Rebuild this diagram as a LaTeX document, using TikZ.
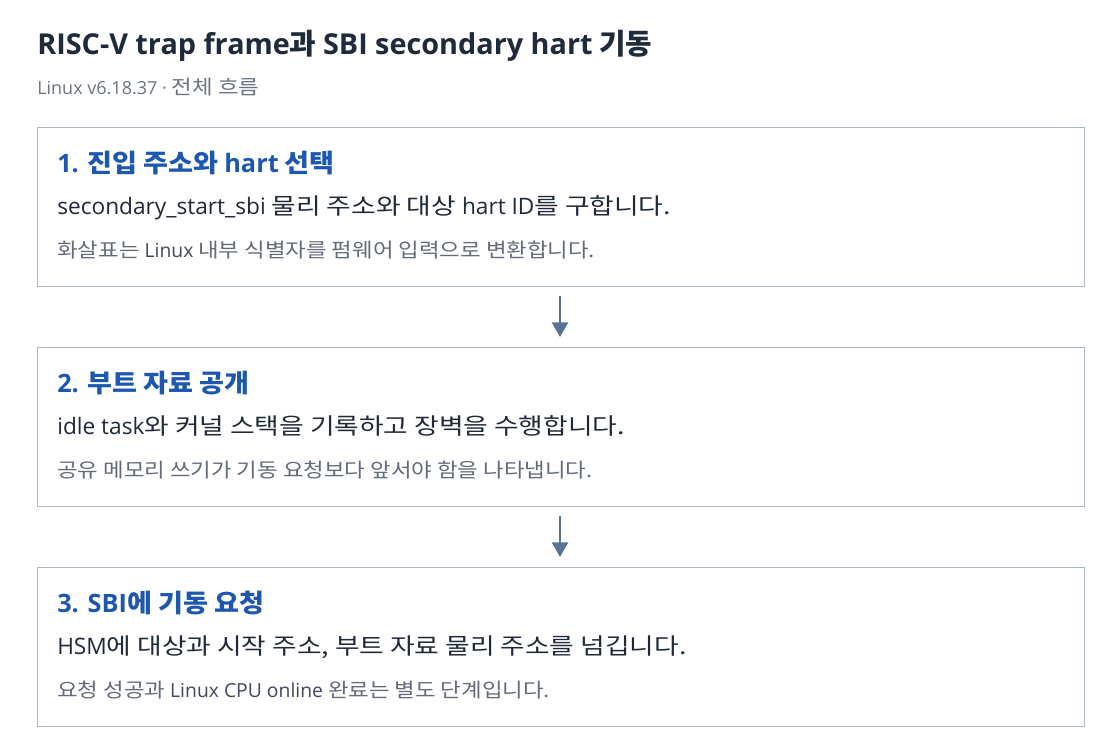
\documentclass[tikz,border=0pt]{standalone}
\usepackage{fontspec}
\setmainfont{Noto Sans CJK KR}
\newfontfamily\lat{Open Sans}
\newfontfamily\krT{Noto Sans CJK KR}
\newfontfamily\krH[FakeStretch=1.07]{Noto Sans CJK KR}
\newfontfamily\krB[FakeStretch=1.18]{Noto Sans CJK KR}
\newfontfamily\krN[Scale=1.1,FakeStretch=1.13]{Noto Sans CJK KR}
\usetikzlibrary{arrows.meta}
\definecolor{titlec}{HTML}{1F2A3A}
\definecolor{subc}{HTML}{6B7480}
\definecolor{headc}{HTML}{1D57B0}
\definecolor{bodyc}{HTML}{1F2937}
\definecolor{notec}{HTML}{626B78}
\definecolor{notelat}{HTML}{3F4958}
\definecolor{borderc}{HTML}{AEB9C7}
\definecolor{arrowc}{HTML}{5A7393}
\newcommand\lt[1]{{\lat #1}}
\newcommand\ltn[1]{{\fontsize{14.5pt}{16pt}\selectfont\lat\color{notelat}#1}}
\tikzset{
  stepbox/.style={draw=borderc, line width=0.9pt, fill=white},
  titletext/.style={anchor=base west, inner sep=0pt, text=titlec, font=\fontsize{21.6pt}{26pt}\selectfont\bfseries\krT},
  subtext/.style={anchor=base west, inner sep=0pt, text=subc, font=\fontsize{13.5pt}{16pt}\selectfont\krN},
  headtext/.style={anchor=base west, inner sep=0pt, text=headc, font=\fontsize{19pt}{22pt}\selectfont\bfseries\krH},
  bodytext/.style={anchor=base west, inner sep=0pt, text=bodyc, font=\fontsize{17pt}{20pt}\selectfont\krB},
  notetext/.style={anchor=base west, inner sep=0pt, text=notec, font=\fontsize{13.5pt}{16pt}\selectfont\krN},
  flow/.style={draw=arrowc, line width=2.2pt, -{Triangle[width=12pt,length=11pt]}}
}
\begin{document}
\begin{tikzpicture}[x=0.75pt,y=-0.75pt]
\useasboundingbox (0,0) rectangle (1120,754);
\fill[white] (0,0) rectangle (1120,754);

\node[titletext] (title) at (37,54) {\lt{RISC-V trap frame}과 \lt{SBI secondary hart} 기동};
\node[subtext] (sub) at (37,94) {\lt{Linux v6.18.37 ·} 전체 흐름};

% box 1
\node[stepbox, minimum width=1047*0.75pt, minimum height=159*0.75pt, anchor=north west] (b1) at (37,127) {};
\node[headtext] (h1) at (57,172) {\lt{1.} 진입 주소와 \lt{hart} 선택};
\node[bodytext] (t1) at (57,214) {\lt{secondary\_start\_sbi} 물리 주소와 대상 \lt{hart ID}를 구합니다.};
\node[notetext] (n1) at (57,257) {화살표는 \ltn{Linux} 내부 식별자를 펌웨어 입력으로 변환합니다.};

% box 2
\node[stepbox, minimum width=1047*0.75pt, minimum height=159*0.75pt, anchor=north west] (b2) at (37,347) {};
\node[headtext] (h2) at (57,392) {\lt{2.} 부트 자료 공개};
\node[bodytext] (t2) at (57,434) {\lt{idle task}와 커널 스택을 기록하고 장벽을 수행합니다.};
\node[notetext] (n2) at (57,477) {공유 메모리 쓰기가 기동 요청보다 앞서야 함을 나타냅니다.};

% box 3
\node[stepbox, minimum width=1047*0.75pt, minimum height=159*0.75pt, anchor=north west] (b3) at (37,567) {};
\node[headtext] (h3) at (57,612) {\lt{3. SBI}에 기동 요청};
\node[bodytext] (t3) at (57,654) {\lt{HSM}에 대상과 시작 주소, 부트 자료 물리 주소를 넘깁니다.};
\node[notetext] (n3) at (57,697) {요청 성공과 \ltn{Linux CPU online} 완료는 별도 단계입니다.};

% arrows
\coordinate (a1s) at (560,296);
\coordinate (a1e) at (560,337);
\coordinate (a2s) at (560,516);
\coordinate (a2e) at (560,557);
\draw[flow] (a1s) -- (a1e);
\draw[flow] (a2s) -- (a2e);
\end{tikzpicture}
\end{document}
